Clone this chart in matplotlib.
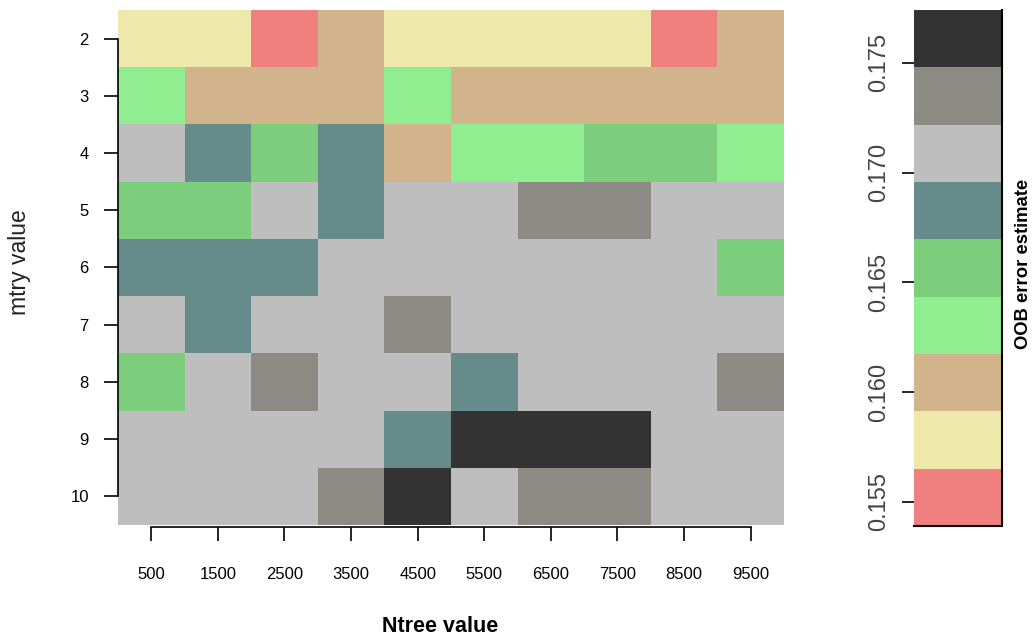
import numpy as np
import matplotlib
matplotlib.use('Agg')
import matplotlib.pyplot as plt
from matplotlib.colors import ListedColormap, BoundaryNorm

plt.rcParams['font.family'] = ['Liberation Sans', 'DejaVu Sans']

# OOB error estimate for each mtry (rows) x ntree (columns)
ntree = [500, 1500, 2500, 3500, 4500, 5500, 6500, 7500, 8500, 9500]
mtry = [2, 3, 4, 5, 6, 7, 8, 9, 10]
oob = np.array([
    [0.1580, 0.1575, 0.1539, 0.1605, 0.1585, 0.1578, 0.1582, 0.1576, 0.1548, 0.1602],
    [0.1630, 0.1598, 0.1607, 0.1612, 0.1625, 0.1603, 0.1609, 0.1614, 0.1600, 0.1606],
    [0.1710, 0.1685, 0.1660, 0.1690, 0.1615, 0.1637, 0.1632, 0.1655, 0.1650, 0.1640],
    [0.1652, 0.1658, 0.1700, 0.1688, 0.1705, 0.1712, 0.1730, 0.1725, 0.1708, 0.1698],
    [0.1680, 0.1692, 0.1684, 0.1702, 0.1715, 0.1710, 0.1706, 0.1718, 0.1704, 0.1660],
    [0.1712, 0.1687, 0.1703, 0.1716, 0.1735, 0.1709, 0.1714, 0.1701, 0.1719, 0.1707],
    [0.1657, 0.1713, 0.1728, 0.1706, 0.1711, 0.1690, 0.1717, 0.1703, 0.1714, 0.1740],
    [0.1709, 0.1716, 0.1704, 0.1712, 0.1693, 0.1774, 0.1760, 0.1755, 0.1718, 0.1711],
    [0.1707, 0.1714, 0.1719, 0.1738, 0.1770, 0.1712, 0.1726, 0.1733, 0.1705, 0.1716],
])
cb_ticks = [0.155, 0.160, 0.165, 0.170, 0.175]

# R colours used by the original plot
colours = ['#F08080', '#EEE8AA', '#D2B48C', '#90EE90', '#7CCD7C',
           '#668B8B', '#BEBEBE', '#8B8B83', '#333333']
cmap = ListedColormap(colours)
bounds = np.linspace(oob.min(), oob.max(), len(colours) + 1)
norm = BoundaryNorm(bounds, cmap.N)

fig = plt.figure(figsize=(10.34, 6.39), dpi=100)
ax = fig.add_axes([0.1141, 0.1784, 0.6441, 0.806])

xedges = np.arange(0, 10001, 1000)
yedges = np.arange(1.5, 11, 1)
ax.pcolormesh(xedges, yedges, oob, cmap=cmap, norm=norm)
ax.set_xlim(0, 10000)
ax.set_ylim(10.5, 1.5)

ax.set_xticks(ntree)
ax.set_xticklabels([str(n) for n in ntree])
ax.set_yticks(mtry)
ax.set_yticklabels([str(m) for m in mtry])
ax.tick_params(axis='x', length=10, width=1.2, pad=19, labelsize=12)
ax.tick_params(axis='y', length=10, width=1.2, pad=11, labelsize=12)
for s in ['top', 'right']:
    ax.spines[s].set_visible(False)
ax.spines['bottom'].set_bounds(ntree[0], ntree[-1])
ax.spines['bottom'].set_position(('outward', 1.5))
ax.spines['left'].set_bounds(mtry[0], mtry[-1])
for s in ['bottom', 'left']:
    ax.spines[s].set_linewidth(1.2)

# axis titles placed like the R plot
fig.text(0.4255, 0.0188, 'Ntree value', fontsize=15.5, fontweight='bold',
         ha='center', va='center')
fig.text(0.0193, 0.590, 'mtry value', fontsize=16.5, rotation=90,
         ha='center', va='center', color='#222222')

# colour key
cax = fig.add_axes([0.8839, 0.1768, 0.0851, 0.8075])
lev = np.arange(len(colours)).reshape(-1, 1)
cax.pcolormesh([0, 1], bounds, lev, cmap=cmap, vmin=-0.5, vmax=len(colours) - 0.5)
cax.set_xlim(0, 1)
cax.set_ylim(bounds[0], bounds[-1])
cax.set_xticks([])
cax.set_yticks(cb_ticks)
cax.set_yticklabels(['%.3f' % t for t in cb_ticks], rotation=90, va='center',
                    fontsize=17, color='#444444')
cax.tick_params(axis='y', length=9, width=1.2, pad=8)
cax.spines['top'].set_visible(False)
cax.spines['left'].set_visible(False)
cax.spines['right'].set_linewidth(1.5)
cax.spines['bottom'].set_linewidth(1.5)
fig.text(0.9903, 0.587, 'OOB error estimate', fontsize=13.3, fontweight='bold',
         rotation=90, ha='center', va='center')

fig.savefig('out.png', dpi=100)
